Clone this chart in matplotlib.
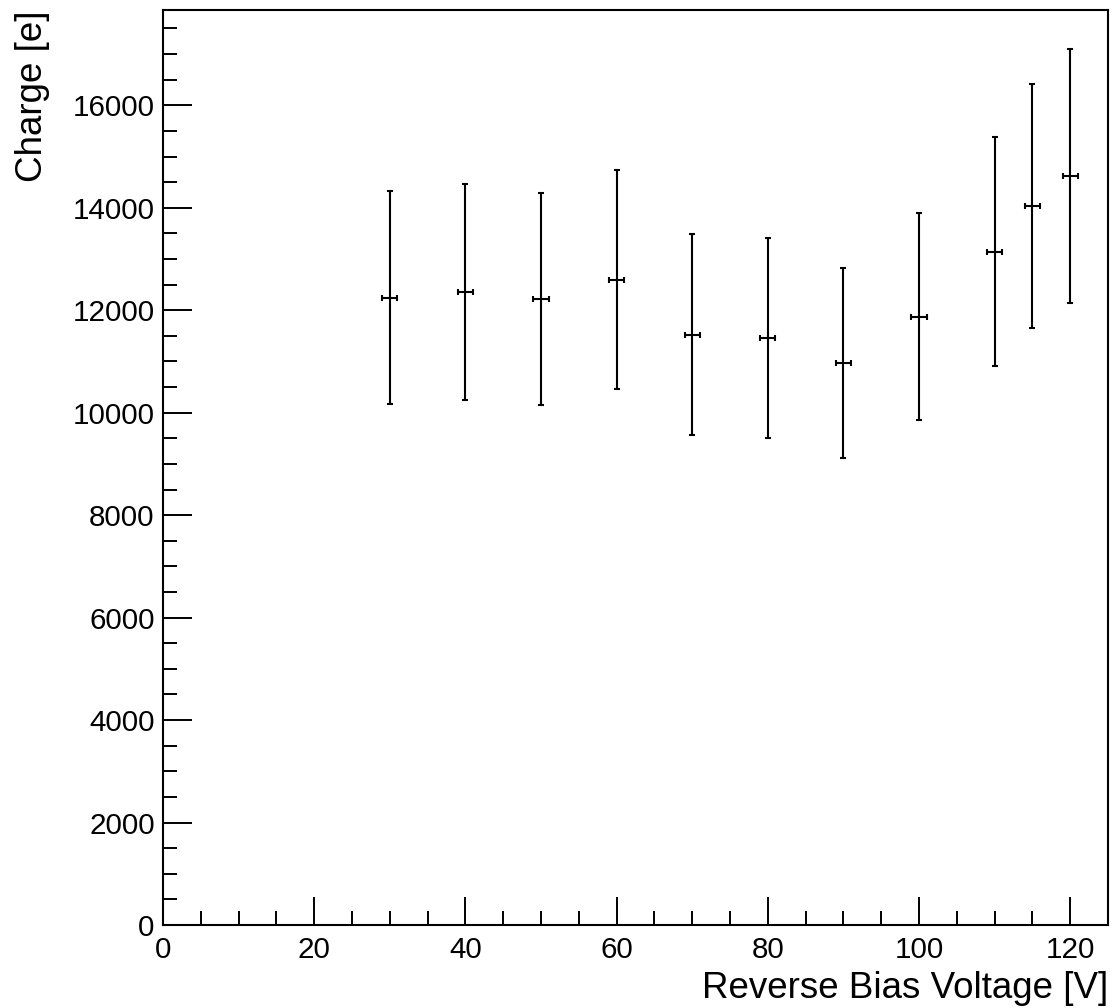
import matplotlib
matplotlib.use("Agg")
import matplotlib.pyplot as plt
from matplotlib.ticker import MultipleLocator

voltage = [30, 40, 50, 60, 70, 80, 90, 100, 110, 115, 120]
charge = [12245, 12362, 12219, 12596, 11523, 11464, 10970, 11868, 13143, 14041, 14614]
charge_err = [2082, 2105, 2075, 2137, 1960, 1950, 1862, 2020, 2230, 2380, 2480]
voltage_err = [1, 1, 1, 1, 1, 1, 1, 1, 1, 1, 1]

plt.rcParams['font.family'] = ['Liberation Sans', 'DejaVu Sans']

fig = plt.figure(figsize=(11.12, 10.08), dpi=100)
ax = fig.add_axes([163/1112, 83/1008, (1108-163)/1112, (925-10)/1008])

ax.errorbar(voltage, charge, yerr=charge_err, xerr=voltage_err, fmt='none',
            ecolor='black', elinewidth=1.5, capsize=2.3, capthick=1.5)

ax.set_xlim(0, 125)
ax.set_ylim(0, 17860)
ax.xaxis.set_major_locator(MultipleLocator(20))
ax.xaxis.set_minor_locator(MultipleLocator(5))
ax.yaxis.set_major_locator(MultipleLocator(2000))
ax.yaxis.set_minor_locator(MultipleLocator(500))

ax.tick_params(which='both', direction='in', top=False, right=False, width=1.4, colors='black')
ax.tick_params(axis='x', which='major', length=20, labelsize=21.3, pad=8)
ax.tick_params(axis='x', which='minor', length=10)
ax.tick_params(axis='y', which='major', length=21, labelsize=21.3, pad=6)
ax.tick_params(axis='y', which='minor', length=10)

for s in ax.spines.values():
    s.set_linewidth(1.5)

ax.set_xlabel('Reverse Bias Voltage [V]', fontsize=26.5, loc='right', labelpad=5)
ax.set_ylabel('Charge [e]', fontsize=26.5, loc='top', labelpad=16)

fig.savefig('out.png', dpi=100)
